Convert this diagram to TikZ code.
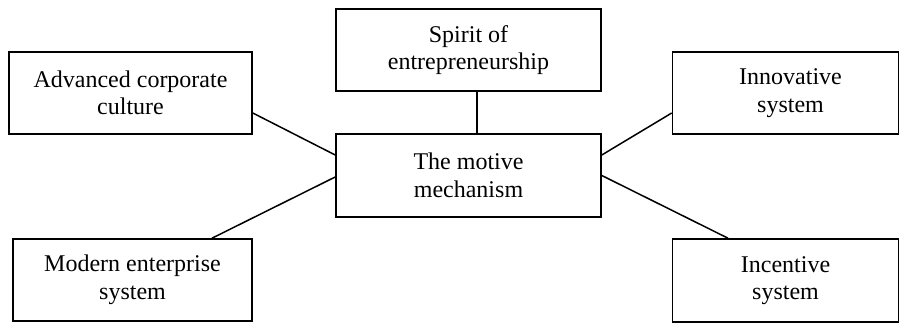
\documentclass[tikz,border=0pt]{standalone}
\usepackage{fontspec}
\setmainfont{Liberation Serif}
\begin{document}
\begin{tikzpicture}[x=1pt,y=-1pt,
  box/.style={draw, line width=1.6pt, inner sep=0pt, align=center,
    font=\fontsize{24}{27.5}\selectfont},
  link/.style={line width=1.5pt}]
\useasboundingbox (0,0) rectangle (900,323);
\node[box, minimum width=265pt, minimum height=82pt] (spirit) at (468.5,50) {Spirit of\\entrepreneurship};
\node[box, minimum width=243pt, minimum height=82pt] (adv) at (130.5,93) {Advanced corporate\\culture};
\node[box, minimum width=226pt, minimum height=82pt] (inn) at (785.5,93) {\hspace*{10pt}Innovative\\\hspace*{10pt}system};
\node[box, minimum width=265pt, minimum height=83pt] (mot) at (468.5,175.5) {The motive\\mechanism};
\node[box, minimum width=239pt, minimum height=82pt] (mod) at (132.5,280) {Modern enterprise\\system};
\node[box, minimum width=226pt, minimum height=83pt] (inc) at (785.5,280.5) {Incentive\\system};
\draw[link] ([xshift=8.5pt]spirit.south) -- ([xshift=8.5pt]mot.north);
\draw[link] ([yshift=-20pt]adv.east) -- ([yshift=20.5pt]mot.west);
\draw[link] ([yshift=-20pt]inn.west) -- ([yshift=20.5pt]mot.east);
\draw[link] ([xshift=79.5pt]mod.north) -- ([yshift=-1.5pt]mot.west);
\draw[link] ([xshift=-57.5pt]inc.north) -- ([yshift=0pt]mot.east);
\end{tikzpicture}
\end{document}
